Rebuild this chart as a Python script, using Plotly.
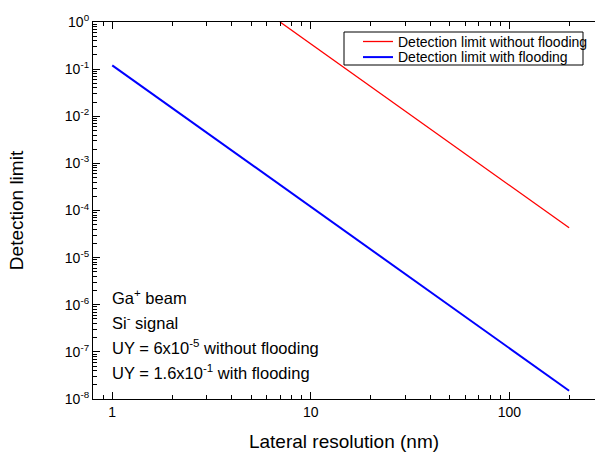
import plotly.graph_objects as go
import numpy as np

# Data
res_without = [7, 10, 20, 50, 100, 200]
dl_without = [1.0, 0.343, 0.0429, 0.00274, 3.43e-4, 4.3e-5]
res_with = [1, 2, 5, 10, 20, 50, 100, 200]
dl_with = [0.12, 0.015, 9.6e-4, 1.2e-4, 1.5e-5, 9.6e-7, 1.2e-7, 1.5e-8]
series_names = ["Detection limit without flooding", "Detection limit with flooding"]

x_tickvals = [1, 10, 100]
x_ticktext = ["1", "10", "100"]
y_tickvals = [1e0, 1e-1, 1e-2, 1e-3, 1e-4, 1e-5, 1e-6, 1e-7, 1e-8]
y_ticktext = ["10<sup>0</sup>", "10<sup>-1</sup>", "10<sup>-2</sup>", "10<sup>-3</sup>",
              "10<sup>-4</sup>", "10<sup>-5</sup>", "10<sup>-6</sup>", "10<sup>-7</sup>",
              "10<sup>-8</sup>"]
note_lines = ["Ga<sup>+</sup> beam", "Si<sup>-</sup> signal",
              "UY = 6x10<sup>-5</sup> without flooding",
              "UY = 1.6x10<sup>-1</sup> with flooding"]

FONT = "Arial, Liberation Sans, sans-serif"
COLORS = ["#FF0000", "#0000FF"]
WIDTHS = [1.3, 2]

# minor tick positions (log axes, 2..9 in each decade)
x_minor = [k * 10.0 ** d for d in (-1, 0, 1, 2) for k in range(2, 10)
           if 0.8 <= k * 10.0 ** d <= 270]
y_minor = [k * 10.0 ** d for d in range(-8, 0) for k in range(2, 10)]

fig = go.Figure()
fig.add_trace(go.Scatter(x=res_without, y=dl_without, mode="lines",
                         line=dict(color=COLORS[0], width=WIDTHS[0]),
                         name=series_names[0], showlegend=False))
fig.add_trace(go.Scatter(x=res_with, y=dl_with, mode="lines",
                         line=dict(color=COLORS[1], width=WIDTHS[1]),
                         name=series_names[1], showlegend=False))
# invisible carrier trace for the minor-tick overlay axes
fig.add_trace(go.Scatter(x=res_with, y=dl_with, mode="lines", xaxis="x2", yaxis="y2",
                         line=dict(width=0), opacity=0, showlegend=False,
                         hoverinfo="skip"))

L, R, T, B = 93, 0, 22, 57
W, H = 595, 456
PW, PH = W - L - R, H - T - B
xr = [np.log10(0.8), np.log10(270)]
yr = [-8, 0]


def px(xp):
    return (xp - L) / PW


def py(yp):
    return (H - B - yp) / PH


fig.update_layout(
    width=W, height=H,
    margin=dict(l=L, r=R, t=T, b=B, autoexpand=False),
    paper_bgcolor="white", plot_bgcolor="white",
    font=dict(family=FONT, color="black", size=14),
    showlegend=False,
    xaxis=dict(
        type="log", range=xr,
        showline=True, linecolor="black", linewidth=1.2, mirror="allticks",
        ticks="inside", ticklen=7, tickcolor="black",
        tickmode="array", tickvals=x_tickvals, ticktext=x_ticktext,
        tickfont=dict(size=14),
        showgrid=False, zeroline=False,
        title=dict(text="Lateral resolution (nm)", font=dict(size=19), standoff=15),
    ),
    yaxis=dict(
        type="log", range=yr,
        showline=True, linecolor="black", linewidth=1.2, mirror=False,
        ticks="inside", ticklen=7, tickcolor="black",
        tickmode="array", tickvals=y_tickvals, ticktext=y_ticktext,
        tickfont=dict(size=14),
        showgrid=False, zeroline=False,
        title=dict(text="Detection limit", font=dict(size=19), standoff=36),
    ),
    xaxis2=dict(
        type="log", range=xr, overlaying="x", side="bottom",
        showline=False, mirror="ticks",
        ticks="inside", ticklen=4, tickcolor="black",
        tickmode="array", tickvals=x_minor, showticklabels=False,
        showgrid=False, zeroline=False,
    ),
    yaxis2=dict(
        type="log", range=yr, overlaying="y", side="left",
        showline=False,
        ticks="inside", ticklen=4, tickcolor="black",
        tickmode="array", tickvals=y_minor, showticklabels=False,
        showgrid=False, zeroline=False,
    ),
)

# legend box (drawn like the reference's compact legend)
fig.add_shape(type="rect", xref="paper", yref="paper",
              x0=px(344), x1=px(583), y0=py(65), y1=py(32),
              line=dict(color="black", width=1), fillcolor="white", layer="above")
for i, (name, col, wd) in enumerate(zip(series_names, COLORS, WIDTHS)):
    yc = 41.5 + 15.6 * i
    fig.add_shape(type="line", xref="paper", yref="paper",
                  x0=px(363), x1=px(393), y0=py(yc), y1=py(yc),
                  line=dict(color=col, width=wd), layer="above")
    fig.add_annotation(text=name, xref="paper", yref="paper",
                       x=px(396), y=py(yc), xanchor="left", yanchor="middle",
                       showarrow=False, font=dict(size=14, family=FONT))

ys = [297, 322, 347, 372]
for txt, yp in zip(note_lines, ys):
    fig.add_annotation(text=txt, xref="paper", yref="paper",
                       x=px(110), y=py(yp),
                       xanchor="left", yanchor="middle", showarrow=False,
                       font=dict(size=16.5, family=FONT))

fig.write_html("out.html",
               config={"displayModeBar": False},
               post_script="document.body.style.margin='0';document.body.style.overflow='hidden';")
